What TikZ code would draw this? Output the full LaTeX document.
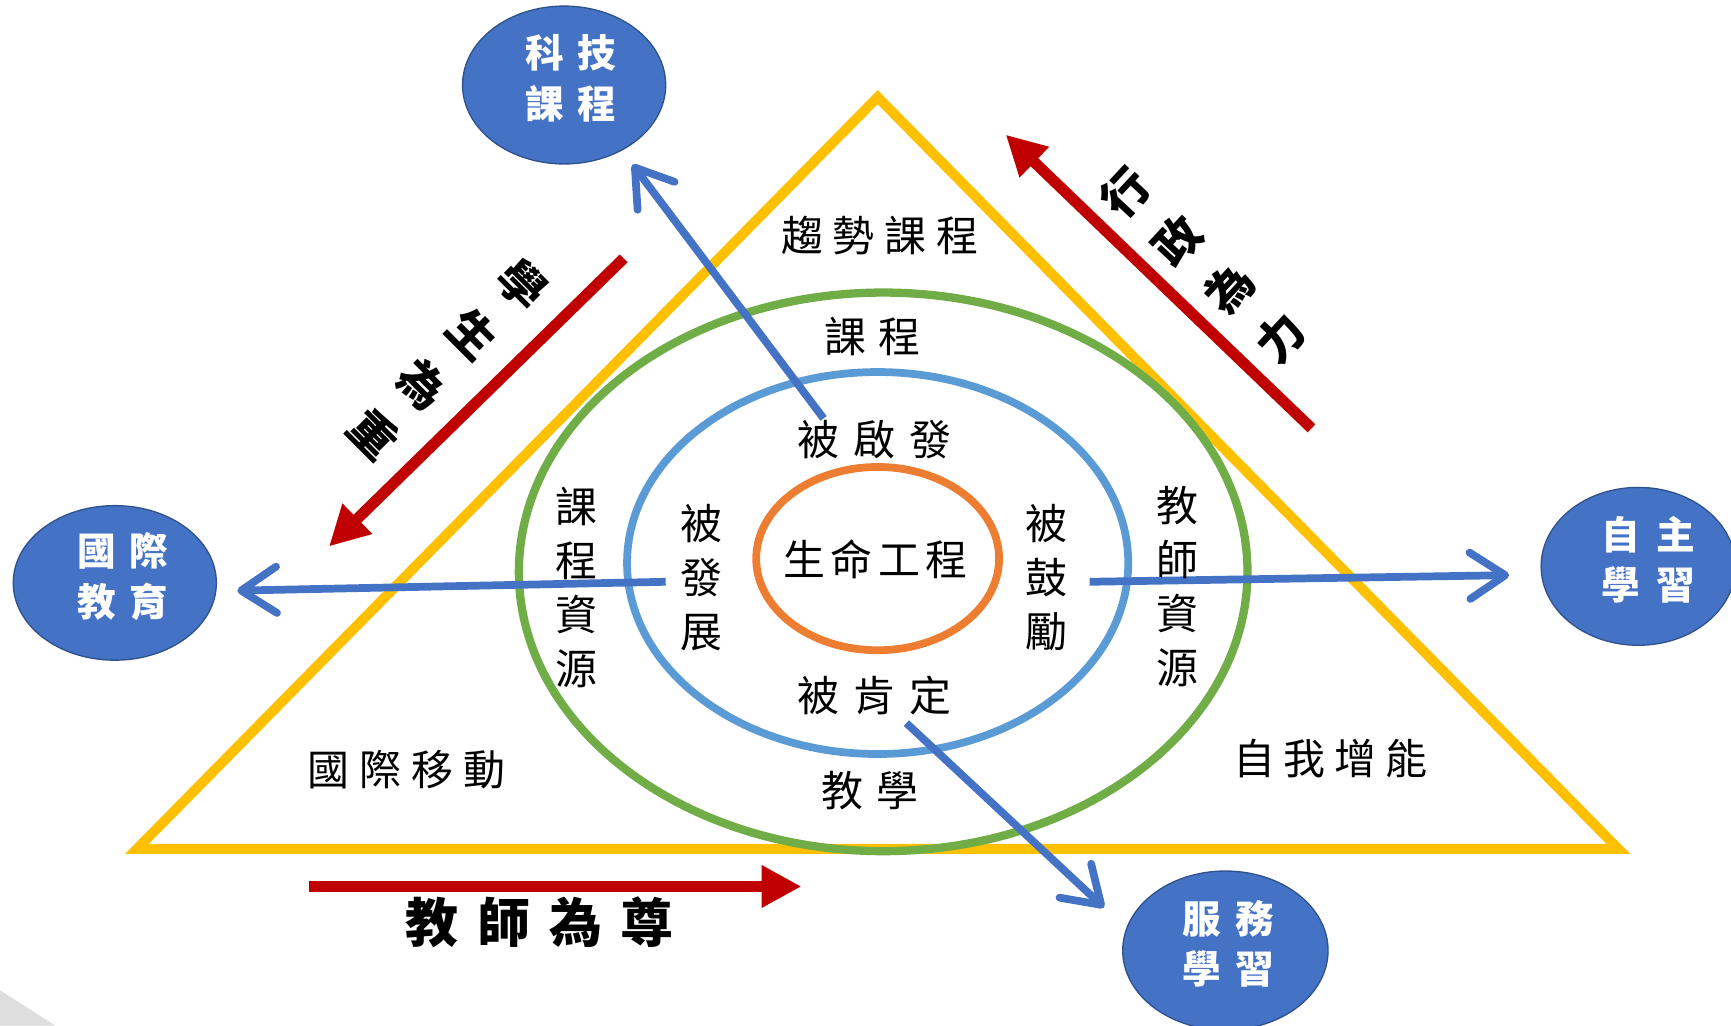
\documentclass[tikz,border=0pt]{standalone}
\usepackage{fontspec}
\newfontfamily\cjk{Noto Sans CJK TC}
\usetikzlibrary{arrows.meta,shapes.geometric}
\definecolor{tgold}{HTML}{FFC000}
\definecolor{rgreen}{HTML}{70AD47}
\definecolor{rblue}{HTML}{5B9BD5}
\definecolor{rorange}{HTML}{ED7D31}
\definecolor{ablue}{HTML}{4472C4}
\definecolor{bborder}{HTML}{2F528F}
\definecolor{dred}{HTML}{C00000}
\newcommand\cgap[1]{\hspace*{#1pt}}
\begin{document}
\begin{tikzpicture}[x=1pt,y=-1pt,
  ringnode/.style={ellipse, inner sep=0pt},
  bubble/.style={ellipse, fill=ablue, draw=bborder, line width=1.2pt, inner sep=0pt},
  btext/.style={inner sep=0pt, text=white, align=center, font=\cjk\bfseries\fontsize{35}{46}\selectfont},
  lbl/.style={inner sep=0pt, align=center, font=\cjk\fontsize{38}{48}\selectfont},
  vlbl/.style={inner sep=0pt, align=center, font=\cjk\fontsize{38}{49}\selectfont},
  slogan/.style={inner sep=0pt, align=center, font=\cjk\bfseries\fontsize{42}{64}\selectfont},
  bluearr/.style={draw=ablue, line width=7pt, -{Straight Barb[round,length=32pt,width=42pt]}},
  redarr/.style={draw=dred, line width=10pt, -{Triangle[length=36pt,width=36pt]}}
]
\useasboundingbox (0,0) rectangle (1568,929);
\fill[white] (0,0) rectangle (1568,929);
% faint corner artifact
\fill[black!13] (0,897) -- (50,929) -- (0,929) -- cycle;

% triangle
\draw[tgold, line width=9pt, line join=miter] (795,88) -- (1466,769) -- (124,769) -- cycle;

% rings
\node[ringnode, draw=rgreen, line width=7.5pt, minimum width=660pt, minimum height=506pt] (green) at (800,518) {};
\node[ringnode, draw=rblue, line width=7pt, minimum width=454pt, minimum height=346pt] (bluering) at (795,510) {};
\node[ringnode, draw=rorange, line width=7pt, minimum width=220pt, minimum height=166pt] (orange) at (795,506) {};

% bubbles
\node[bubble, minimum width=184pt, minimum height=143pt] (tech) at (511,77) {};
\node[bubble, minimum width=184pt, minimum height=140pt] (intl) at (104,528) {};
\node[bubble, minimum width=176pt, minimum height=143pt] (self) at (1484,513) {};
\node[bubble, minimum width=186pt, minimum height=144pt] (serv) at (1110,861) {};
\node[btext] (techT) at (517,71) {科\cgap{12}技\\課\cgap{12}程};
\node[btext] (intlT) at (111,522) {國\cgap{12}際\\教\cgap{12}育};
\node[btext] (selfT) at (1493,507) {自\cgap{15}主\\學\cgap{15}習};
\node[btext] (servT) at (1113,855) {服\cgap{13}務\\學\cgap{13}習};

% blue arrows
\coordinate (aS) at (746,379); \coordinate (aE) at (573,149);
\coordinate (bS) at (603,527); \coordinate (bE) at (215,535);
\coordinate (cS) at (987,527); \coordinate (cE) at (1367,521);
\coordinate (dS) at (821,655); \coordinate (dE) at (1000,822);
\draw[bluearr] (aS) -- (aE);
\draw[bluearr] (bS) -- (bE);
\draw[bluearr] (cS) -- (cE);
\draw[bluearr] (dS) -- (dE);

% red arrows
\coordinate (rlS) at (565,234); \coordinate (rlE) at (298,495);
\coordinate (rrS) at (1188,388); \coordinate (rrE) at (911,122);
\coordinate (rbS) at (280,803); \coordinate (rbE) at (726,803);
\draw[redarr] (rlS) -- (rlE);
\draw[redarr] (rrS) -- (rrE);
\draw[redarr] (rbS) -- (rbE);

% slogans
\node[slogan, rotate=-45] (stu) at (406,325) {學\\生\\為\\重};
\node[slogan, rotate=47] (adm) at (1090,240) {行\\政\\為\\力};
\node[inner sep=0pt, font=\cjk\bfseries\fontsize{48}{50}\selectfont] (tea) at (489,835) {教\cgap{17}師\cgap{17}為\cgap{17}尊};

% inner labels
\node[lbl] (trend) at (797,213) {趨\cgap{9}勢\cgap{9}課\cgap{9}程};
\node[lbl] (curr) at (790,305) {課\cgap{11}程};
\node[lbl] (insp) at (792,398) {被\cgap{13}啟\cgap{13}發};
\node[lbl] (life) at (793,507) {生\cgap{5}命\cgap{5}工\cgap{5}程};
\node[lbl] (affirm) at (792,630) {被\cgap{13}肯\cgap{13}定};
\node[lbl] (teach) at (788,716) {教\cgap{12}學};
\node[lbl] (mob) at (368,697) {國\cgap{9}際\cgap{9}移\cgap{9}動};
\node[lbl] (emp) at (1205,687) {自\cgap{8}我\cgap{8}增\cgap{8}能};
\node[vlbl] (cres) at (522,532) {課\\程\\資\\源};
\node[vlbl] (dev) at (635,523) {被\\發\\展};
\node[vlbl] (enc) at (948,523) {被\\鼓\\勵};
\node[vlbl] (tres) at (1067,531) {教\\師\\資\\源};
\end{tikzpicture}
\end{document}
